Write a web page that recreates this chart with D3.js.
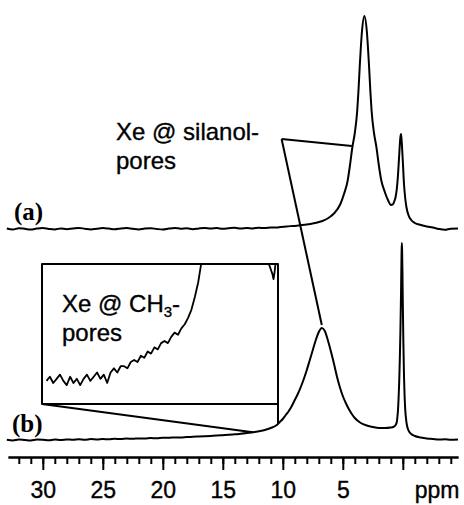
<!DOCTYPE html>
<html><head><meta charset="utf-8">
<script src="https://cdn.jsdelivr.net/npm/d3@7"></script>
<style>
html,body{margin:0;padding:0;background:#fff;}
svg{display:block;}
text{font-family:"Liberation Sans",Arial,sans-serif;fill:#000;stroke:#000;stroke-width:0.35px;}
.lbl{font-family:"Liberation Serif","Times New Roman",serif;font-weight:bold;stroke-width:0;}
</style></head>
<body>
<svg id="c" width="464" height="505"></svg>
<script>
// ---- data (ppm, intensity in arbitrary units) ----
const ppmA = [33,32.5,32,31.5,31,30.5,30,29.5,29,28.5,28,27.5,27,26.5,26,25.5,25,24.5,24,23.5,23,22.5,22,21.5,21,20.5,20,19.5,19,18.5,18,17.5,17,16.5,16,15.5,15,14.5,14,13.5,13,12.5,12,11.5,11,10.5,
  10.2,9.7,9.2,8.7,8.2,7.7,7.2,6.7,6.2,5.7,5.2,4.9,4.6,4.4,4.2,4.0,3.8,3.7,3.6,3.4,3.2,3.0,2.8,2.7,2.6,2.4,2.2,2.0,1.8,1.5,1.2,1.0,0.8,0.7,0.6,0.5,0.4,0.3,0.2,0.15,0.1,0.0,-0.1,-0.2,-0.3,-0.5,-0.7,-1.0,-1.5,-2.0,-2.5,-3.0,-3.5,-4.0,-4.6];
const intensityA = [0.5,-0.5,0.8,0.2,-0.6,0.4,1.0,0.1,-0.4,0.6,-0.2,0.5,1.1,0.3,-0.5,0.2,0.9,0.4,-0.3,0.6,1.0,0.2,-0.4,0.5,0.8,0.0,-0.5,0.4,1.0,0.3,0.7,-0.2,0.6,1.1,0.4,0.9,0.2,0.8,1.2,0.5,1.0,0.6,1.3,0.9,1.5,1.6,
  2.0,2.6,3.0,3.4,4.2,5.0,6.2,8,11,16,25,35,48,64,82,96,118,137,160,198,213,198,160,137,118,96,82,64,49,37,28,24,25,28,32,40,54,74,92,95,89,68,45,31,22,13,9,6,4,2.5,1.5,0,-0.8,0.3,0.5];

const ppmB = [33,32.5,32,31.5,31,30.5,30,29.5,29,28.5,28,27.5,27,26.5,26,25.5,25,24.5,24,23.5,23,22.5,22,21.5,21,20.5,20,19.5,19,18.5,18,17.5,17,16.5,16,15.5,15,14.5,14,13.5,13,12.5,12,11.5,11,10.5,10.25,10,9.75,9.5,9.25,9,8.75,8.5,8.25,8,7.75,7.5,7.25,7,6.75,6.5,6.25,6,5.75,5.5,5.25,5,4.75,4.5,4.25,4,3.5,3,2.5,2,1.5,1.0,0.8,0.6,0.5,0.45,0.4,0.35,0.3,0.25,0.2,0.15,0.12,0.1,0.08,0.06,0.03,0,-0.05,-0.1,-0.15,-0.2,-0.3,-0.4,-0.5,-0.7,-1,-1.5,-2,-2.5,-3,-3.5,-4,-4.6];
const intensityB = [0.3,-0.4,0.5,0,-0.5,0.4,0.2,-0.3,0.5,0,0.6,0.2,0.8,0.3,0.9,0.6,1.0,0.7,1.2,1.0,1.4,1.2,1.6,1.5,1.9,1.8,2.2,2.2,2.6,2.6,3.0,3.2,3.5,3.8,4.1,4.4,4.8,5.2,5.7,6.2,6.9,7.8,8.8,10,12,15,18,21,25,29,34,40,46,53,61,70,80,90,100,108,112,109,100,89,77,64,53,44,37,31,26,22,17,14.5,13,12,12,12.5,13,15,18,23,30,42,58,80,108,145,172,189,197,191,168,138,96,64,44,31,18,12,9,6,4,2.5,1.5,1,0.4,0.8,0.2,0.5];

// magnified inset of spectrum (b)
const insetPpm = [12.46,12.43,12.40,12.37,12.34,12.31,12.28,12.25,12.22,12.19,12.16,12.13,12.10,12.07,12.04,12.01,11.98,11.95,11.92,11.89,11.86,11.83,11.80,11.77,11.74,11.71,11.68,11.65,11.62,11.59,11.56,11.53,11.50,11.47,11.44,11.41,11.38,11.35,11.32,11.29,11.26,11.23,11.20,11.17,11.14,11.11,11.08,11.05];
const insetIntensity = [6.9,7.1,6.8,7.0,7.2,6.9,6.7,7.1,6.8,7.0,6.7,7.0,7.2,6.9,7.1,7.3,7.0,7.2,6.8,7.3,7.5,7.3,7.6,7.6,7.5,7.8,7.9,7.8,8.1,8.0,8.3,8.2,8.5,8.4,8.7,8.8,8.7,9.0,9.2,9.1,9.4,9.6,9.9,10.3,10.9,11.6,12.6,13.8];
const insetPpm2 = [10.49,10.47,10.45,10.44,10.43,10.42];
const insetIntensity2 = [12.6,12.3,12.0,11.75,12.1,12.6];

const minorTicks = [32,31,30,29,28,27,26,25,24,23,22,21,20,19,18,17,16,15,14,13,12,11,10,9,8,7,6,5,4,3,2,1,0,-1,-2,-3,-4];
const majorTicks = [30,25,20,15,10,5,0];
const majorLabels = ["30","25","20","15","10","5",""];
const unitLabel = "ppm";

// ---- layout ----
const svg = d3.select("#c");
const x = d3.scaleLinear().domain([32.9,-4.6]).range([8,458]);
const yA = d3.scaleLinear().domain([0,213]).range([229,16]);
const yB = d3.scaleLinear().domain([0,197]).range([440,243]);
const inset = {left:42, right:278, top:264, bottom:404};
const xI = d3.scaleLinear().domain([12.5,10.4]).range([inset.left, inset.right]);
const yI = d3.scaleLinear().domain([5.8,12.47]).range([inset.bottom, inset.top]);

const lineStyle = s => s.attr("fill","none").attr("stroke","#000").attr("stroke-width",2).attr("stroke-linejoin","round");

function spectrum(px, py, xs, ys, curve){
  const pts = px.map((p,i)=>[p,py[i]]);
  return d3.line().x(d=>xs(d[0])).y(d=>ys(d[1])).curve(curve||d3.curveMonotoneX)(pts);
}

svg.append("path").attr("d", spectrum(ppmA,intensityA,x,yA)).call(lineStyle);
svg.append("path").attr("d", spectrum(ppmB,intensityB,x,yB)).call(lineStyle);

// inset box and connectors
svg.append("defs").append("clipPath").attr("id","clipI").append("rect")
  .attr("x",inset.left).attr("y",inset.top).attr("width",inset.right-inset.left).attr("height",inset.bottom-inset.top);
svg.append("rect").attr("x",inset.left).attr("y",inset.top).attr("width",inset.right-inset.left).attr("height",inset.bottom-inset.top)
  .call(lineStyle);
const gI = svg.append("g").attr("clip-path","url(#clipI)");
gI.append("path").attr("d", spectrum(insetPpm,insetIntensity,xI,yI,d3.curveLinear)).call(lineStyle).attr("stroke-width",1.8);
gI.append("path").attr("d", spectrum(insetPpm2,insetIntensity2,xI,yI,d3.curveLinear)).call(lineStyle).attr("stroke-width",1.8);

const interpB = p => { // value of spectrum b at ppm p (from the data table)
  for(let i=0;i<ppmB.length-1;i++){ if(ppmB[i]>=p && ppmB[i+1]<=p){ const t=(ppmB[i]-p)/(ppmB[i]-ppmB[i+1]); return intensityB[i]+t*(intensityB[i+1]-intensityB[i]); } }
  return 0;
};
svg.append("line").attr("x1",inset.left).attr("y1",inset.bottom).attr("x2",x(12.5)).attr("y2",yB(interpB(12.5))).call(lineStyle);
svg.append("line").attr("x1",inset.right).attr("y1",inset.bottom).attr("x2",inset.right).attr("y2",yB(interpB(xI.invert(inset.right)))).call(lineStyle);

// annotation leader lines
const anchor = [x(10.1), yA(90)];
svg.append("line").attr("x1",anchor[0]).attr("y1",anchor[1]).attr("x2",x(4.25)).attr("y2",yA(83)).call(lineStyle);
svg.append("line").attr("x1",anchor[0]).attr("y1",anchor[1]).attr("x2",x(6.75)).attr("y2",yB(115)).call(lineStyle);

// texts
svg.append("text").attr("x",116).attr("y",140).attr("font-size",24).text("Xe @ silanol-");
svg.append("text").attr("x",116).attr("y",169).attr("font-size",24).text("pores");
const t1 = svg.append("text").attr("x",62).attr("y",312).attr("font-size",24);
t1.append("tspan").text("Xe @ CH");
t1.append("tspan").attr("font-size",15).attr("dy",5).text("3");
t1.append("tspan").attr("dy",-5).text("-");
svg.append("text").attr("x",62).attr("y",341).attr("font-size",24).text("pores");
svg.append("text").attr("class","lbl").attr("x",14).attr("y",220).attr("font-size",25).text("(a)");
svg.append("text").attr("class","lbl").attr("x",12).attr("y",432).attr("font-size",25).text("(b)");

// axis
const axisY = 457;
const gMinor = svg.append("g").attr("transform",`translate(0,${axisY})`)
  .call(d3.axisBottom(x).tickValues(minorTicks).tickSize(7).tickSizeOuter(0).tickFormat(""));
const gMajor = svg.append("g").attr("transform",`translate(0,${axisY})`)
  .call(d3.axisBottom(x).tickValues(majorTicks).tickSize(13).tickSizeOuter(0).tickPadding(12)
        .tickFormat((d,i)=>majorLabels[i]));
[gMinor,gMajor].forEach(g=>{
  g.select(".domain").attr("stroke","#000").attr("stroke-width",2);
  g.selectAll(".tick line").attr("stroke","#000").attr("stroke-width",2);
  g.selectAll(".tick text").attr("font-size",23).attr("font-family","Liberation Sans, Arial, sans-serif").attr("fill","#000");
});
gMajor.append("text").attr("x",x(-2.85)).attr("y",25).attr("dy","0.71em").attr("text-anchor","middle")
  .attr("font-size",23).attr("fill","#000").text(unitLabel);
</script>
</body></html>
